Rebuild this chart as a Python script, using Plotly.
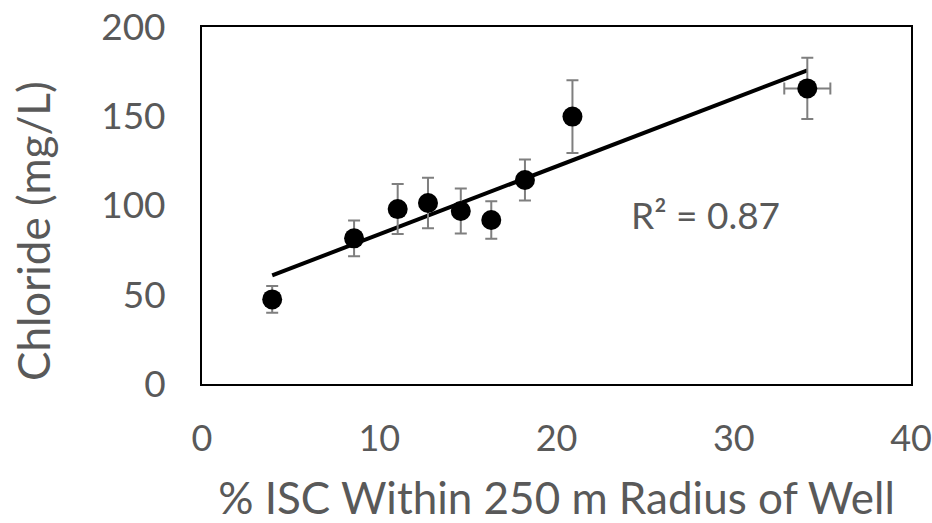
import numpy as np
import plotly.graph_objects as go

# Data
isc_pct = [3.96, 8.58, 11.04, 12.75, 14.60, 16.32, 18.22, 20.90, 34.15]
chloride = [47.4, 81.6, 98.0, 101.4, 96.9, 91.9, 114.3, 149.8, 165.6]
chloride_err = [7.5, 10.0, 14.0, 14.2, 12.6, 10.5, 11.5, 20.4, 17.2]
isc_err = [0, 0, 0, 0, 0, 0, 0, 0, 1.3]
r2_label = "R² = 0.87"
x_ticks = [0, 10, 20, 30, 40]
y_ticks = [0, 50, 100, 150, 200]

GRAY = "#595959"
FONT = "Lato"

slope, intercept = np.polyfit(isc_pct, chloride, 1)
xfit = [min(isc_pct), max(isc_pct)]
yfit = [slope * v + intercept for v in xfit]

fig = go.Figure()
fig.add_trace(go.Scatter(
    x=xfit, y=yfit, mode="lines",
    line=dict(color="black", width=4), showlegend=False, hoverinfo="skip"))
fig.add_trace(go.Scatter(
    x=isc_pct, y=chloride, mode="markers",
    marker=dict(color="black", size=20),
    error_y=dict(type="data", array=chloride_err, color="#7f7f7f", thickness=2, width=6),
    error_x=dict(type="data", array=isc_err, color="#7f7f7f", thickness=2, width=6),
    showlegend=False))

fig.add_annotation(x=28.4, y=94.7, xref="x", yref="y", text=r2_label,
                   showarrow=False, font=dict(family=FONT, size=37, color=GRAY))

# y-axis title (placed slightly below centre, as in the reference)
fig.add_annotation(x=0, y=0.4286, xref="paper", yref="paper", xanchor="center",
                   yanchor="middle", xshift=-169, textangle=-90, showarrow=False,
                   text="Chloride (mg/L)", font=dict(family=FONT, size=44, color=GRAY))

axis_common = dict(showgrid=False, zeroline=False, showline=True, mirror=True,
                   linecolor="black", linewidth=2, ticks="",
                   ticklabeloverflow="allow")
fig.update_xaxes(range=[0, 40], tickvals=x_ticks, ticklabelstandoff=22,
                 tickfont=dict(family=FONT, size=36, color=GRAY),
                 title=dict(text="% ISC Within 250 m Radius of Well",
                            font=dict(family=FONT, size=44, color=GRAY), standoff=28),
                 **axis_common)
fig.update_yaxes(range=[0, 200], tickvals=y_ticks, ticklabelstandoff=27,
                 tickfont=dict(family=FONT, size=37, color=GRAY),
                 **axis_common)

fig.update_layout(width=932, height=523, plot_bgcolor="white", paper_bgcolor="white",
                  margin=dict(l=202, r=21, t=27, b=139, autoexpand=False))
# remove the default page margin so the figure fills the window exactly
fig.write_html("out.html", config={"displayModeBar": False},
               post_script="document.body.style.margin='0';document.body.style.overflow='hidden';")
